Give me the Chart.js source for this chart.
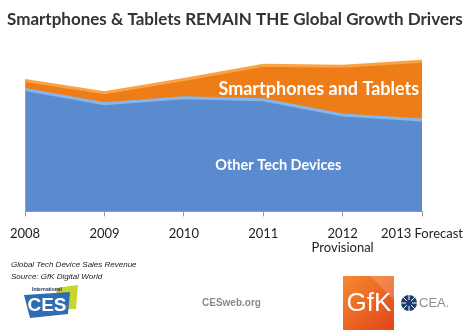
<!DOCTYPE html>
<html>
<head>
<meta charset="utf-8">
<script src="https://cdn.jsdelivr.net/npm/chart.js@4/dist/chart.umd.min.js"></script>
<style>
  body { margin: 0; background: #fff; }
  #wrap { width: 473px; height: 330px; position: relative; }
</style>
</head>
<body>
<div id="wrap"><canvas id="cv" width="473" height="330"></canvas></div>
<script>
// Revenue share per year (stacked), read as units of chart height
var years = ['2008', '2009', '2010', '2011', ['2012', 'Provisional'], '2013 Forecast'];
var autresAppareils = [120, 106, 112, 110, 95, 90];
var smartphonesTablettes = [9, 11, 18, 34, 48, 58];

var FONT = 'Lato, "Open Sans", sans-serif';

// Titre, annotations dans les aires, sources et logos
var decor = {
  id: 'decor',
  afterDatasetsDraw: function(chart) {
    var ctx = chart.ctx;
    var x = chart.scales.x, y = chart.scales.y;
    ctx.save();
    ctx.fillStyle = '#fff';
    ctx.textAlign = 'center';
    ctx.textBaseline = 'middle';
    ctx.font = 'bold 18px ' + FONT;
    ctx.fillText('Smartphones and Tablets', x.getPixelForValue(3.7), y.getPixelForValue(120));
    ctx.font = 'bold 14.5px ' + FONT;
    ctx.fillText('Other Tech Devices', x.getPixelForValue(3.19), y.getPixelForValue(45));
    ctx.restore();
  },
  afterDraw: function(chart) {
    var ctx = chart.ctx;
    ctx.save();
    // titre
    ctx.fillStyle = '#333';
    ctx.textAlign = 'left';
    ctx.textBaseline = 'middle';
    ctx.font = 'bold 17px ' + FONT;
    ctx.fillText('Smartphones & Tablets REMAIN THE Global Growth Drivers', 7, 20);

    // sources
    ctx.fillStyle = '#222';
    ctx.font = 'italic 8px "Liberation Sans", Arial, sans-serif';
    ctx.fillText('Global Tech Device Sales Revenue', 11, 265);
    ctx.fillText('Source: GfK Digital World', 11, 277);

    ctx.fillStyle = '#8a8a8a';
    ctx.font = 'bold 10px "Liberation Sans", Arial, sans-serif';
    ctx.fillText('CESweb.org', 202, 303);

    // logo CES
    ctx.fillStyle = '#c5d62e';
    ctx.beginPath();
    ctx.moveTo(56, 288); ctx.lineTo(78, 285); ctx.lineTo(76, 309); ctx.lineTo(58, 309);
    ctx.closePath(); ctx.fill();
    ctx.fillStyle = '#2f6db3';
    ctx.beginPath();
    ctx.moveTo(24, 295); ctx.lineTo(70, 292); ctx.lineTo(68, 314); ctx.lineTo(30, 318);
    ctx.closePath(); ctx.fill();
    ctx.fillStyle = '#fff';
    ctx.textAlign = 'center';
    ctx.font = 'bold 19px "Liberation Sans", Arial, sans-serif';
    ctx.fillText('CES', 47, 306);
    ctx.fillStyle = '#1b2f55';
    ctx.font = 'bold 5px "Liberation Sans", Arial, sans-serif';
    ctx.fillText('International', 47, 290);

    // logo GfK
    var g = ctx.createLinearGradient(343, 276, 394, 330);
    g.addColorStop(0, '#f7892e');
    g.addColorStop(1, '#e0441a');
    ctx.fillStyle = g;
    ctx.fillRect(343, 276, 51, 54);
    ctx.fillStyle = 'rgba(255,255,255,0.18)';
    ctx.beginPath();
    ctx.moveTo(370, 276); ctx.lineTo(394, 276); ctx.lineTo(394, 300); ctx.closePath(); ctx.fill();
    ctx.fillStyle = '#fff';
    ctx.font = '26px "Liberation Sans Narrow", "Liberation Sans", Arial, sans-serif';
    ctx.fillText('GfK', 369, 304);

    // logo CEA
    ctx.fillStyle = '#1f3d70';
    ctx.beginPath();
    ctx.arc(409, 303, 8, 0, Math.PI * 2);
    ctx.fill();
    ctx.strokeStyle = '#fff';
    ctx.lineWidth = 1;
    for (var i = 0; i < 8; i++) {
      var a = i * Math.PI / 4;
      ctx.beginPath();
      ctx.moveTo(409 + Math.cos(a) * 3, 303 + Math.sin(a) * 3);
      ctx.lineTo(409 + Math.cos(a) * 8, 303 + Math.sin(a) * 8);
      ctx.stroke();
    }
    ctx.fillStyle = '#8d8d8d';
    ctx.textAlign = 'left';
    ctx.font = '13px "Liberation Sans", Arial, sans-serif';
    ctx.fillText('CEA.', 419, 303);
    ctx.restore();
  }
};

new Chart(document.getElementById('cv'), {
  type: 'line',
  data: {
    labels: years,
    datasets: [{
      label: 'Other Tech Devices',
      data: autresAppareils,
      backgroundColor: '#5a8bce',
      borderColor: '#86b6ec',
      borderWidth: 3,
      fill: 'origin',
      pointRadius: 0,
      tension: 0
    }, {
      label: 'Smartphones and Tablets',
      data: smartphonesTablettes,
      backgroundColor: '#ef7d17',
      borderColor: '#f9a345',
      borderWidth: 3,
      fill: '-1',
      pointRadius: 0,
      tension: 0
    }]
  },
  options: {
    responsive: false,
    animation: false,
    layout: { padding: { left: 24, right: 49, top: 49, bottom: 65 } },
    plugins: { legend: { display: false }, tooltip: { enabled: false } },
    scales: {
      x: {
        offset: false,
        border: { color: '#9a9a9a' },
        grid: { drawOnChartArea: false, tickLength: 5, color: '#9a9a9a' },
        ticks: {
          autoSkip: false, maxRotation: 0, padding: 10, color: '#222',
          font: { family: FONT, size: 13, lineHeight: 1.1 }
        }
      },
      y: { display: false, stacked: true, min: 0, max: 160 }
    }
  },
  plugins: [decor]
});
</script>
</body>
</html>
